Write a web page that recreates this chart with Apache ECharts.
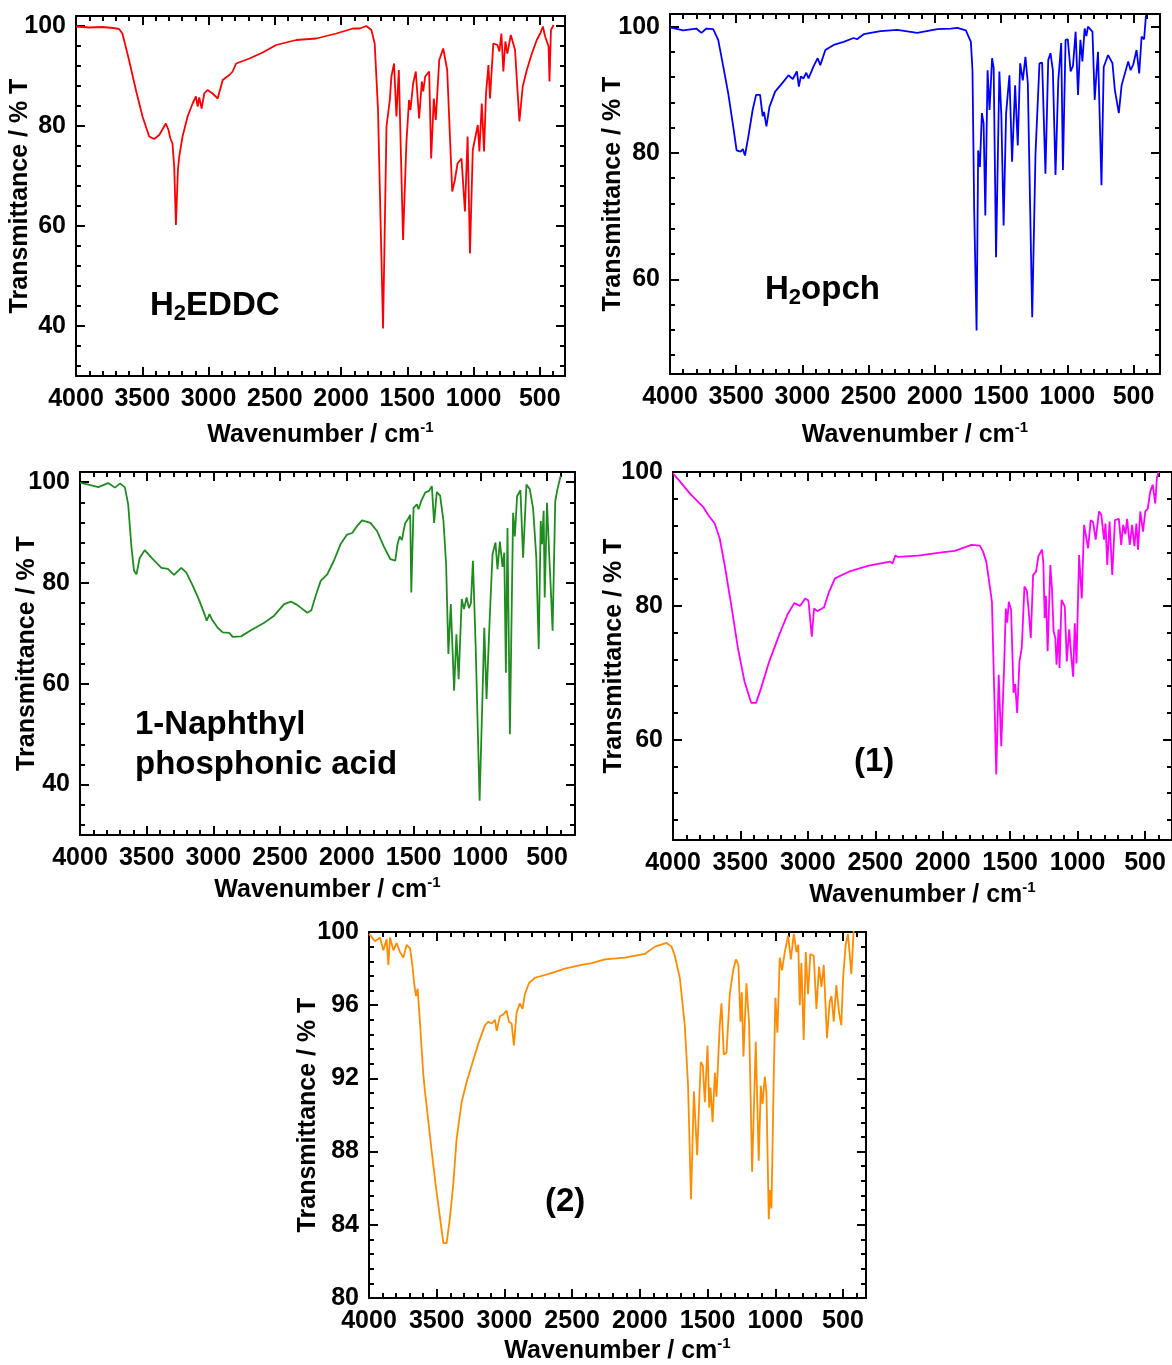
<!DOCTYPE html>
<html><head><meta charset="utf-8">
<script src="https://cdn.jsdelivr.net/npm/echarts@6/dist/echarts.min.js"></script>
<style>html,body{margin:0;padding:0;background:#fff}#c{width:1172px;height:1365px}</style>
</head><body><div id="c"></div>
<script>
// ---------- DATA (wavenumber cm-1, transmittance %) ----------
const specEDDC = [[4000,99.9],[3900,99.7],[3800,99.8],[3720,99.6],[3675,99.4],[3650,98.5],[3600,93.2],[3548,87.2],[3498,81.9],[3448,77.9],[3410,77.4],[3372,78.2],[3322,80.5],[3302,79.2],[3289,77.6],[3272,76.5],[3259,71.9],[3246,60.2],[3231,71.2],[3221,73.9],[3196,77.9],[3158,81.9],[3120,84.5],[3095,85.9],[3082,83.9],[3070,85.7],[3052,83.5],[3032,86.5],[3007,87.2],[2969,86.5],[2931,85.5],[2893,89.2],[2843,90.2],[2818,90.9],[2792,92.5],[2691,93.5],[2591,94.7],[2490,96.2],[2338,97.2],[2187,97.5],[2036,98.5],[1910,99.5],[1859,99.5],[1809,100],[1771,99.2],[1746,96.5],[1721,83.2],[1683,39.5],[1657,79.9],[1632,85.2],[1620,89.9],[1600,92.5],[1582,81.9],[1564,91.2],[1532,57.2],[1507,76.5],[1487,85.2],[1476,83.2],[1456,88.5],[1436,90.9],[1411,81.5],[1390,88.9],[1380,86.9],[1365,89.9],[1335,90.9],[1320,73.5],[1300,85.5],[1285,81.2],[1259,93.2],[1229,95.5],[1199,91.2],[1161,66.9],[1141,69.2],[1121,72.5],[1091,73.5],[1065,62.9],[1045,77.9],[1027,54.5],[1006,75.2],[981,78.5],[968,80.2],[956,74.9],[938,84.5],[921,74.9],[906,86.5],[888,92.2],[876,85.5],[851,96.5],[820,96.2],[805,94.9],[790,98.5],[775,90.9],[760,96.9],[745,94.5],[719,98.2],[687,95.2],[654,80.9],[629,87.9],[598,91.2],[560,94.5],[523,97.2],[497,98.5],[477,99.9],[460,97.9],[434,95.9],[427,88.9],[416,99.2],[396,100.2]];

const specOpch = [[4000,99.9],[3901,99.4],[3801,99.7],[3763,99.0],[3725,99.7],[3674,99.6],[3636,97.9],[3598,93.7],[3560,89.4],[3522,84.1],[3497,80.4],[3467,80.2],[3450,80.6],[3434,79.6],[3409,82.5],[3376,86.8],[3350,89.2],[3320,89.2],[3300,85.8],[3290,86.5],[3272,84.2],[3249,87.3],[3206,89.7],[3143,91.3],[3105,92.3],[3073,91.7],[3042,92.9],[3027,90.5],[3012,92.1],[2992,91.8],[2971,92.7],[2954,91.8],[2916,93.7],[2885,95.0],[2865,93.9],[2827,96.3],[2764,97.1],[2689,97.6],[2613,98.2],[2588,98.0],[2537,98.8],[2411,99.3],[2284,99.5],[2133,99.0],[1981,99.6],[1880,99.7],[1830,99.8],[1766,99.4],[1728,97.6],[1716,93.1],[1703,70.9],[1685,51.9],[1673,80.4],[1660,77.8],[1645,86.3],[1632,84.7],[1619,70.1],[1602,93.1],[1587,86.8],[1568,95.0],[1556,93.5],[1538,63.5],[1513,92.9],[1498,86.0],[1481,68.5],[1462,86.3],[1437,92.3],[1417,78.6],[1394,90.7],[1374,81.2],[1356,94.2],[1336,91.5],[1316,95.2],[1298,91.0],[1265,54.0],[1240,79.9],[1210,94.2],[1190,94.3],[1165,76.7],[1144,94.7],[1127,95.8],[1109,93.1],[1089,76.5],[1068,91.5],[1046,97.4],[1033,77.3],[1013,97.9],[996,98.0],[975,92.9],[957,93.8],[937,99.2],[919,89.2],[901,97.9],[886,94.5],[869,99.7],[856,98.5],[844,100],[810,99.2],[793,88.4],[780,92.6],[768,96.0],[742,74.9],[725,93.6],[692,95.5],[659,94.2],[641,90.0],[611,86.3],[590,90.7],[565,92.6],[540,94.5],[522,93.1],[502,94.0],[477,96.3],[457,92.6],[439,98.4],[420,98.0],[406,101.8]];

const specNaph = [[4000,99.9],[3938,99.5],[3863,99.0],[3789,99.8],[3739,98.9],[3701,99.7],[3664,99.0],[3639,95.6],[3614,87.0],[3595,82.4],[3577,81.7],[3552,85.0],[3515,86.5],[3465,85.0],[3390,83.0],[3341,82.8],[3296,81.6],[3241,83.0],[3204,82.1],[3154,79.4],[3104,76.4],[3067,73.8],[3050,72.5],[3030,73.8],[3012,72.8],[2968,71.1],[2930,70.2],[2881,70.1],[2856,69.3],[2793,69.4],[2719,70.6],[2619,72.1],[2545,73.5],[2470,75.8],[2420,76.3],[2383,75.8],[2346,75.1],[2296,74.1],[2266,74.6],[2234,77.4],[2196,80.4],[2147,81.7],[2097,84.4],[2047,87.7],[1998,89.6],[1960,89.9],[1923,91.3],[1886,92.4],[1823,91.9],[1774,90.3],[1724,87.3],[1674,84.7],[1637,84.4],[1620,87.7],[1604,89.2],[1587,88.5],[1575,90.3],[1562,91.9],[1537,92.9],[1525,93.5],[1517,78.1],[1500,94.9],[1475,95.6],[1463,94.6],[1443,96.2],[1413,97.9],[1383,98.3],[1363,99.2],[1346,91.9],[1326,98.0],[1301,97.3],[1276,92.3],[1256,83.7],[1239,65.9],[1221,75.8],[1196,58.6],[1179,69.8],[1162,60.9],[1139,76.8],[1122,74.8],[1102,77.1],[1085,75.0],[1070,76.0],[1055,84.4],[1035,67.9],[1005,36.8],[985,56.0],[970,71.1],[953,57.0],[928,73.8],[908,85.7],[886,88.0],[871,82.7],[853,88.2],[833,83.2],[820,86.0],[808,62.2],[796,90.9],[778,50.0],[754,93.9],[741,89.2],[724,97.2],[699,98.4],[679,85.0],[654,99.5],[629,98.6],[604,94.8],[580,85.0],[562,66.9],[547,92.3],[537,87.7],[525,94.3],[517,77.1],[500,95.9],[480,83.7],[470,78.0],[458,70.5],[438,96.2],[423,98.4],[398,101.2]];

const specC1 = [[4000,99.8],[3949,98.6],[3876,96.8],[3777,94.8],[3740,93.6],[3691,92.3],[3654,90.1],[3617,86.1],[3568,80.1],[3519,73.7],[3470,68.7],[3420,65.5],[3384,65.5],[3347,67.7],[3286,71.7],[3212,75.7],[3151,78.7],[3101,80.4],[3057,80.0],[3020,81.1],[2996,80.8],[2971,75.4],[2954,79.6],[2930,79.2],[2905,79.5],[2880,79.8],[2843,82.1],[2799,84.1],[2696,85.1],[2549,86.0],[2389,86.6],[2372,86.3],[2352,87.5],[2328,87.3],[2180,87.5],[2008,88.0],[1910,88.2],[1787,89.1],[1725,89.0],[1701,88.1],[1677,86.6],[1652,83.1],[1635,80.6],[1620,68.7],[1603,54.8],[1585,69.7],[1566,59.0],[1546,70.2],[1532,79.6],[1522,77.5],[1510,80.6],[1493,79.4],[1475,67.0],[1463,68.3],[1448,64.0],[1431,71.7],[1414,73.7],[1394,82.9],[1377,82.3],[1364,79.6],[1347,75.2],[1330,84.6],[1308,85.1],[1291,87.4],[1264,88.4],[1254,86.5],[1244,78.2],[1235,81.5],[1222,73.2],[1202,86.1],[1190,82.5],[1178,76.2],[1165,75.2],[1156,71.2],[1141,76.5],[1134,70.7],[1119,80.9],[1095,79.9],[1080,71.7],[1062,76.5],[1050,73.2],[1033,69.4],[1021,77.4],[1008,71.4],[989,87.6],[969,81.1],[952,92.1],[940,92.3],[922,88.6],[903,92.8],[885,92.5],[866,89.9],[841,94.1],[824,93.6],[804,89.9],[793,92.3],[780,86.1],[763,92.6],[743,84.6],[723,92.8],[694,93.0],[677,89.1],[662,92.1],[645,90.7],[633,93.0],[613,89.1],[596,92.1],[579,88.9],[564,92.3],[552,88.4],[535,94.1],[515,91.1],[498,94.1],[480,94.5],[461,97.1],[443,98.1],[424,95.3],[412,99.1],[399,100]];

const specC2 = [[4000,99.9],[3993,99.9],[3956,99.5],[3919,99.7],[3894,99.0],[3870,99.6],[3857,98.2],[3845,99.7],[3820,99.0],[3796,99.4],[3771,98.9],[3746,98.6],[3722,99.3],[3697,99.1],[3680,98.2],[3665,97.1],[3653,96.5],[3641,96.9],[3624,95.1],[3599,92.2],[3587,91.3],[3567,90.0],[3537,88.0],[3508,86.2],[3476,84.4],[3451,83.0],[3427,83.0],[3402,84.4],[3378,86.2],[3353,88.7],[3316,90.7],[3279,91.8],[3242,92.7],[3193,93.9],[3144,94.9],[3119,95.1],[3094,95.0],[3070,95.2],[3057,94.6],[3033,95.4],[3008,95.5],[2984,95.7],[2967,95.1],[2947,95.0],[2930,93.8],[2910,95.6],[2886,96.1],[2866,95.8],[2849,96.6],[2819,97.2],[2775,97.5],[2677,97.7],[2553,98.0],[2430,98.2],[2356,98.3],[2258,98.5],[2111,98.6],[1963,98.8],[1889,99.2],[1803,99.4],[1766,99.2],[1742,98.7],[1705,97.5],[1668,94.9],[1644,91.6],[1622,85.4],[1601,91.3],[1577,87.8],[1550,92.9],[1535,92.7],[1520,90.7],[1500,93.8],[1488,90.4],[1478,91.5],[1463,89.6],[1446,92.3],[1434,91.0],[1410,94.9],[1397,96.1],[1380,93.3],[1360,93.4],[1336,96.6],[1311,97.9],[1291,98.5],[1272,98.2],[1257,95.1],[1247,96.7],[1235,93.2],[1213,97.2],[1193,95.0],[1171,86.9],[1144,94.0],[1122,87.5],[1107,91.6],[1094,90.6],[1077,92.1],[1065,91.2],[1048,84.3],[1038,85.9],[1028,84.9],[1011,92.2],[999,96.4],[984,94.5],[967,98.6],[950,97.9],[930,98.9],[905,99.8],[885,98.5],[863,99.9],[843,98.9],[830,99.3],[819,96.0],[807,98.3],[790,94.1],[775,98.9],[758,96.6],[741,98.8],[716,98.7],[696,95.8],[677,98.1],[659,97.0],[642,98.2],[618,94.2],[598,96.2],[585,96.5],[568,95.1],[549,97.1],[529,95.6],[512,94.9],[499,97.5],[480,99.3],[463,99.9],[438,97.7],[421,100.1]];

// ---------- TICKS / LABELS ----------
const xMajor = [4000,3500,3000,2500,2000,1500,1000,500];
const xMinor = [3900,3800,3700,3600,3400,3300,3200,3100,2900,2800,2700,2600,2400,2300,2200,2100,1900,1800,1700,1600,1400,1300,1200,1100,900,800,700,600,400];
const yMajorA = [40,60,80,100];
const yMinorA = [32,36,44,48,52,56,64,68,72,76,84,88,92,96];
const yMajorB = [60,80,100];
const yMinorB = [48,52,56,64,68,72,76,84,88,92,96];
const yMajorC = [80,84,88,92,96,100];
const yMinorC = [80.8,81.6,82.4,83.2,84.8,85.6,86.4,87.2,88.8,89.6,90.4,91.2,92.8,93.6,94.4,95.2,96.8,97.6,98.4,99.2];
const yTitle = 'Transmittance / % T';

const FONT = 'Liberation Sans, Arial, sans-serif';
const panels = [
  {data: specEDDC, color:'#ff0000', left:76, top:16, w:489, h:360, xMin:310, yMin:30, yMax:102, yMaj:yMajorA, yMin2:yMinorA, yGap:43, xGap:44},
  {data: specOpch, color:'#0000ff', left:670, top:14, w:490, h:360, xMin:300, yMin:45, yMax:102, yMaj:yMajorB, yMin2:yMinorB, yGap:44, xGap:46},
  {data: specNaph, color:'#1e8c1e', left:80, top:472, w:495, h:363, xMin:290, yMin:30, yMax:102, yMaj:yMajorA, yMin2:yMinorA, yGap:40, xGap:40},
  {data: specC1, color:'#ff00ff', left:673, top:472, w:502, h:368, xMin:300, yMin:45, yMax:100, yMaj:yMajorB, yMin2:yMinorB, yGap:46, xGap:40},
  {data: specC2, color:'#ff8c00', left:369, top:932, w:497, h:366, xMin:330, yMin:80, yMax:100, yMaj:yMajorC, yMin2:yMinorC, yGap:48, xGap:38}
];

const grids = [], xAxes = [], yAxes = [], series = [];
const black = '#000';
const lab = {fontSize:25, fontWeight:'bold', color:black, fontFamily:FONT, formatter: v => String(v)};
panels.forEach((p, i) => {
  grids.push({left:p.left, top:p.top, width:p.w, height:p.h, containLabel:false, show:false});
  const xb = {gridIndex:i, type:'value', inverse:true, min:p.xMin, max:4000, splitLine:{show:false}, nameMoveOverlap:false};
  const yb = {gridIndex:i, type:'value', min:p.yMin, max:p.yMax, splitLine:{show:false}, nameMoveOverlap:false};
  const line = {show:true, onZero:false, lineStyle:{color:black, width:2}};
  const noLine = {show:false};
  const tk = (vals, len) => ({show:true, inside:true, length:len, customValues:vals, lineStyle:{color:black, width:2}});
  // x axes
  xAxes.push(Object.assign({}, xb, {position:'bottom', axisLine:line, axisTick:tk(xMajor,9),
    axisLabel:Object.assign({show:true, customValues:xMajor, margin:11}, lab),
    name:'{n|Wavenumber / cm}{s|-1}', nameLocation:'middle', nameGap:p.xGap,
    nameTextStyle:{rich:{n:{fontSize:25, fontWeight:'bold', color:black, fontFamily:FONT, lineHeight:30},
                         s:{fontSize:15, fontWeight:'bold', color:black, fontFamily:FONT, lineHeight:16, verticalAlign:'top'}}}}));
  xAxes.push(Object.assign({}, xb, {position:'bottom', axisLine:noLine, axisTick:tk(xMinor,5), axisLabel:{show:false}}));
  xAxes.push(Object.assign({}, xb, {position:'top', axisLine:line, axisTick:tk(xMajor,9), axisLabel:{show:false}}));
  xAxes.push(Object.assign({}, xb, {position:'top', axisLine:noLine, axisTick:tk(xMinor,5), axisLabel:{show:false}}));
  // y axes
  yAxes.push(Object.assign({}, yb, {position:'left', axisLine:line, axisTick:tk(p.yMaj,9),
    axisLabel:Object.assign({show:true, customValues:p.yMaj, margin:10}, lab),
    name:yTitle, nameLocation:'middle', nameGap:p.yGap,
    nameTextStyle:{fontSize:25, fontWeight:'bold', color:black, fontFamily:FONT}}));
  yAxes.push(Object.assign({}, yb, {position:'left', axisLine:noLine, axisTick:tk(p.yMin2,5), axisLabel:{show:false}}));
  yAxes.push(Object.assign({}, yb, {position:'right', axisLine:line, axisTick:tk(p.yMaj,9), axisLabel:{show:false}}));
  yAxes.push(Object.assign({}, yb, {position:'right', axisLine:noLine, axisTick:tk(p.yMin2,5), axisLabel:{show:false}}));
  series.push({type:'line', xAxisIndex:4*i, yAxisIndex:4*i, data:p.data, symbol:'none', showSymbol:false,
    lineStyle:{color:p.color, width:1.8}, itemStyle:{color:p.color}, clip:true, animation:false, z:3});
});

const rich = {m:{fontSize:33, fontWeight:'bold', fill:black, fontFamily:FONT, lineHeight:38},
              s:{fontSize:22, fontWeight:'bold', fill:black, fontFamily:FONT, lineHeight:22, verticalAlign:'bottom'}};
const txt = (x, y, t) => ({type:'text', x:x, y:y, z:10, style:{text:t, rich:rich, fill:black, font:'bold 33px ' + FONT, verticalAlign:'middle', align:'left'}});

const chart = echarts.init(document.getElementById('c'), null, {renderer:'canvas'});
chart.setOption({
  animation:false,
  backgroundColor:'#fff',
  grid:grids, xAxis:xAxes, yAxis:yAxes, series:series,
  graphic:[
    txt(150, 306, '{m|H}{s|2}{m|EDDC}'),
    txt(765, 290, '{m|H}{s|2}{m|opch}'),
    txt(135, 725, '{m|1-Naphthyl}'),
    txt(135, 765, '{m|phosphonic acid}'),
    txt(854, 762, '{m|(1)}'),
    txt(545, 1202, '{m|(2)}')
  ]
});
</script></body></html>
